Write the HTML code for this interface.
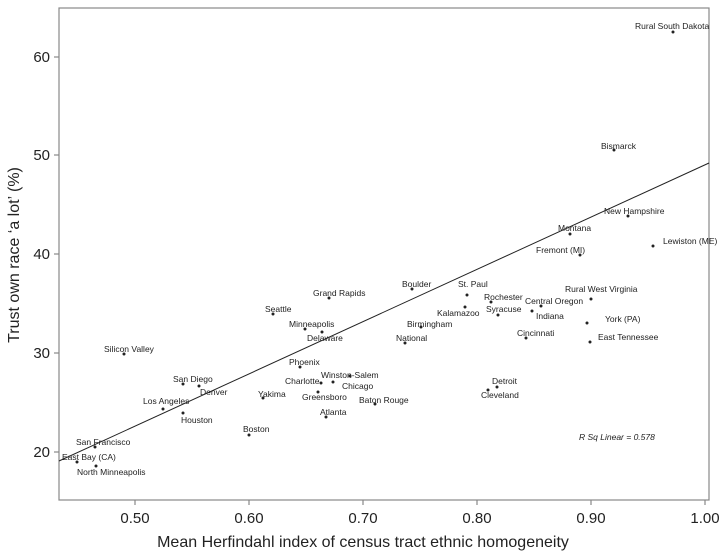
<!DOCTYPE html>
<html><head><style>body{margin:0;background:#fff}</style></head><body>
<svg width="727" height="555" xmlns="http://www.w3.org/2000/svg" font-family="Liberation Sans, sans-serif">
<rect x="59" y="8" width="650" height="492" fill="none" stroke="#888" stroke-width="1.2"/>
<g stroke="#888" stroke-width="1.2">
<line x1="54" y1="57" x2="59" y2="57"/><line x1="54" y1="155" x2="59" y2="155"/><line x1="54" y1="254" x2="59" y2="254"/><line x1="54" y1="353" x2="59" y2="353"/><line x1="54" y1="452" x2="59" y2="452"/>
<line x1="135" y1="500" x2="135" y2="505"/><line x1="249" y1="500" x2="249" y2="505"/><line x1="363" y1="500" x2="363" y2="505"/><line x1="477" y1="500" x2="477" y2="505"/><line x1="591" y1="500" x2="591" y2="505"/><line x1="705" y1="500" x2="705" y2="505"/>
</g>
<g font-size="15" fill="#222" text-anchor="end">
<text x="50" y="62">60</text><text x="50" y="160">50</text><text x="50" y="259">40</text><text x="50" y="358">30</text><text x="50" y="457">20</text>
</g>
<g font-size="15" fill="#222" text-anchor="middle">
<text x="135" y="523">0.50</text><text x="249" y="523">0.60</text><text x="363" y="523">0.70</text><text x="477" y="523">0.80</text><text x="591" y="523">0.90</text><text x="705" y="523">1.00</text>
</g>
<text x="363" y="547" font-size="16" fill="#222" text-anchor="middle">Mean Herfindahl index of census tract ethnic homogeneity</text>
<text transform="translate(19,255) rotate(-90)" font-size="16" fill="#222" text-anchor="middle">Trust own race ‘a lot’ (%)</text>
<line x1="59" y1="461" x2="709" y2="163" stroke="#222" stroke-width="1"/>
<g fill="#222">
<circle cx="673" cy="32" r="1.5"/><circle cx="614" cy="150" r="1.5"/><circle cx="628" cy="216" r="1.5"/><circle cx="570" cy="234" r="1.5"/><circle cx="580" cy="255" r="1.5"/><circle cx="653" cy="246" r="1.5"/><circle cx="591" cy="299" r="1.5"/><circle cx="541" cy="306" r="1.5"/><circle cx="587" cy="323" r="1.5"/><circle cx="532" cy="311" r="1.5"/><circle cx="590" cy="342" r="1.5"/><circle cx="526" cy="338" r="1.5"/><circle cx="467" cy="295" r="1.5"/><circle cx="491" cy="302" r="1.5"/><circle cx="498" cy="315" r="1.5"/><circle cx="465" cy="307" r="1.5"/><circle cx="412" cy="289" r="1.5"/><circle cx="421" cy="327" r="1.5"/><circle cx="405" cy="343" r="1.5"/><circle cx="329" cy="298" r="1.5"/><circle cx="273" cy="314" r="1.5"/><circle cx="305" cy="329" r="1.5"/><circle cx="322" cy="332" r="1.5"/><circle cx="300" cy="367" r="1.5"/><circle cx="350" cy="376" r="1.5"/><circle cx="321" cy="383" r="1.5"/><circle cx="333" cy="382" r="1.5"/><circle cx="318" cy="392" r="1.5"/><circle cx="375" cy="404" r="1.5"/><circle cx="326" cy="417" r="1.5"/><circle cx="497" cy="387" r="1.5"/><circle cx="488" cy="390" r="1.5"/><circle cx="263" cy="398" r="1.5"/><circle cx="124" cy="354" r="1.5"/><circle cx="183" cy="384" r="1.5"/><circle cx="199" cy="386" r="1.5"/><circle cx="163" cy="409" r="1.5"/><circle cx="183" cy="413" r="1.5"/><circle cx="249" cy="435" r="1.5"/><circle cx="95" cy="447" r="1.5"/><circle cx="77" cy="462" r="1.5"/><circle cx="96" cy="466" r="1.5"/>
</g>
<g font-size="8.5" fill="#222">
<text x="635" y="29">Rural South Dakota</text><text x="601" y="149">Bismarck</text><text x="604" y="214">New Hampshire</text><text x="558" y="231">Montana</text><text x="536" y="253">Fremont (MI)</text><text x="663" y="244">Lewiston (ME)</text><text x="565" y="292">Rural West Virginia</text><text x="525" y="304">Central Oregon</text><text x="605" y="322">York (PA)</text><text x="536" y="319">Indiana</text><text x="598" y="340">East Tennessee</text><text x="517" y="336">Cincinnati</text><text x="458" y="287">St. Paul</text><text x="484" y="300">Rochester</text><text x="486" y="312">Syracuse</text><text x="437" y="316">Kalamazoo</text><text x="402" y="287">Boulder</text><text x="407" y="327">Birmingham</text><text x="396" y="341">National</text><text x="313" y="296">Grand Rapids</text><text x="265" y="312">Seattle</text><text x="289" y="327">Minneapolis</text><text x="307" y="341">Delaware</text><text x="289" y="365">Phoenix</text><text x="321" y="378">Winston-Salem</text><text x="285" y="384">Charlotte</text><text x="342" y="389">Chicago</text><text x="302" y="400">Greensboro</text><text x="359" y="403">Baton Rouge</text><text x="320" y="415">Atlanta</text><text x="492" y="384">Detroit</text><text x="481" y="398">Cleveland</text><text x="258" y="397">Yakima</text><text x="104" y="352">Silicon Valley</text><text x="173" y="382">San Diego</text><text x="200" y="395">Denver</text><text x="143" y="404">Los Angeles</text><text x="181" y="423">Houston</text><text x="243" y="432">Boston</text><text x="76" y="445">San Francisco</text><text x="62" y="460">East Bay (CA)</text><text x="77" y="475">North Minneapolis</text>
<text x="579" y="440" font-style="italic">R Sq Linear = 0.578</text>
</g>
</svg>
</body></html>
